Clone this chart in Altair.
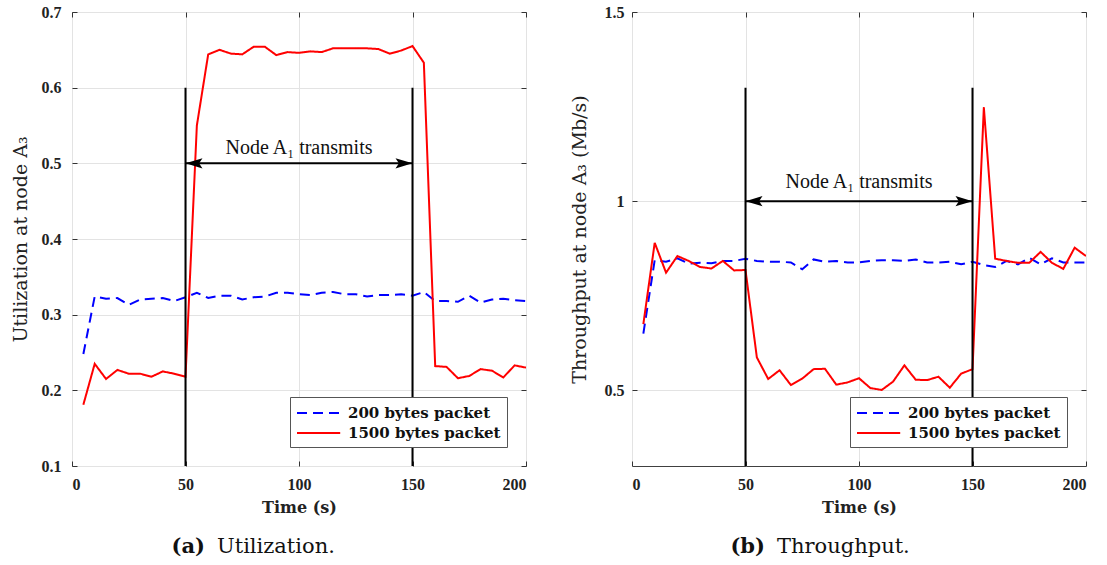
import altair as alt
import pandas as pd

# ---- data -------------------------------------------------------------
time_s = [5, 10, 15, 20, 25, 30, 35, 40, 45, 50,
          55, 60, 65, 70, 75, 80, 85, 90, 95, 100,
          105, 110, 115, 120, 125, 130, 135, 140, 145, 150,
          155, 160, 165, 170, 175, 180, 185, 190, 195, 200]

util_200 = [0.248, 0.324, 0.321, 0.322, 0.313, 0.320, 0.321, 0.322, 0.318, 0.323,
            0.329, 0.322, 0.325, 0.325, 0.320, 0.323, 0.324, 0.329, 0.329, 0.327,
            0.326, 0.329, 0.330, 0.327, 0.327, 0.324, 0.326, 0.326, 0.327, 0.325,
            0.330, 0.318, 0.318, 0.317, 0.325, 0.316, 0.320, 0.321, 0.319, 0.318]

util_1500 = [0.181, 0.235, 0.215, 0.227, 0.222, 0.222, 0.218, 0.225, 0.222, 0.218,
             0.550, 0.644, 0.650, 0.645, 0.644, 0.654, 0.654, 0.643, 0.647, 0.646,
             0.648, 0.647, 0.652, 0.652, 0.652, 0.652, 0.651, 0.645, 0.649, 0.655,
             0.633, 0.232, 0.231, 0.216, 0.219, 0.228, 0.226, 0.217, 0.233, 0.230]

thr_200 = [0.650, 0.844, 0.840, 0.849, 0.835, 0.837, 0.836, 0.842, 0.842, 0.848,
           0.842, 0.840, 0.840, 0.838, 0.820, 0.846, 0.840, 0.842, 0.838, 0.838,
           0.842, 0.844, 0.844, 0.842, 0.846, 0.838, 0.838, 0.840, 0.833, 0.840,
           0.831, 0.826, 0.842, 0.833, 0.850, 0.833, 0.849, 0.838, 0.838, 0.838]

thr_1500 = [0.675, 0.890, 0.811, 0.855, 0.842, 0.826, 0.822, 0.842, 0.817, 0.818,
            0.587, 0.530, 0.553, 0.514, 0.531, 0.556, 0.557, 0.515, 0.521, 0.532,
            0.506, 0.501, 0.523, 0.566, 0.528, 0.527, 0.536, 0.507, 0.544, 0.556,
            1.248, 0.848, 0.842, 0.837, 0.837, 0.866, 0.837, 0.821, 0.877, 0.855]

series_names = ["200 bytes packet", "1500 bytes packet"]
series_colors = ["#0000ff", "#ff0000"]
series_dashes = [[10, 6], [1, 0]]

x_ticks = [0, 50, 100, 150, 200]
util_ticks = [0.1, 0.2, 0.3, 0.4, 0.5, 0.6, 0.7]
thr_ticks = [0.5, 1.0, 1.5]

event_times = [50, 150]          # A1 starts / stops transmitting
event_label = "Node A\u2081 transmits"

# ---- styling ----------------------------------------------------------
W, H = 454, 454
GRID = "#e3e3e3"
TICK = "#333333"
TICK_FONT = "Liberation Serif"
TEX_FONT = "DejaVu Serif"

LEFT_ARROW = "M0,0 L2,-0.6 L1.6,0 L2,0.6 Z"
RIGHT_ARROW = "M0,0 L-2,-0.6 L-1.6,0 L-2,0.6 Z"
LEGEND_LINE = "M-1,0 L3.8,0"


def panel(v200, v1500, y_title, y_domain, y_ticks, marker_top, arrow_y,
          text_dy, tag, caption, y_label_pad, y_title_pad):
    df = pd.DataFrame({
        "t": time_s * 2,
        "v": v200 + v1500,
        "series": [series_names[0]] * len(time_s) + [series_names[1]] * len(time_s),
    })
    events = pd.DataFrame({"t": event_times,
                           "lo": [y_domain[0]] * 2,
                           "hi": [marker_top] * 2})
    arrow = pd.DataFrame({"x0": [event_times[0]], "x1": [event_times[1]],
                          "xm": [(event_times[0] + event_times[1]) / 2],
                          "y": [arrow_y], "label": [event_label]})
    cap = pd.DataFrame({"tag": [tag], "name": [caption]})

    xs = alt.Scale(domain=[0, 200], nice=False)
    ys = alt.Scale(domain=y_domain, nice=False, zero=False)

    main_x = alt.Axis(values=x_ticks, format="d", title="Time (s)", grid=True,
                      gridColor=GRID, ticks=False, domain=False,
                      labelFont=TICK_FONT, labelFontSize=16, labelFontWeight="bold",
                      labelColor="#222", labelPadding=10,
                      titleFont=TEX_FONT, titleFontSize=16, titleFontWeight="bold",
                      titleColor="#222", titlePadding=7)
    main_y = alt.Axis(values=y_ticks, format="~g", title=y_title, grid=True,
                      gridColor=GRID, ticks=False, domain=False,
                      labelFont=TICK_FONT, labelFontSize=16, labelFontWeight="bold",
                      labelColor="#222", labelPadding=y_label_pad,
                      titleFont=TEX_FONT, titleFontSize=19, titleFontWeight="normal",
                      titleColor="#222", titlePadding=y_title_pad)

    # short inward ticks on every side of the frame
    def tick_axis(vals, orient, offset):
        return alt.Axis(values=vals, orient=orient, offset=offset, title=None,
                        labels=False, grid=False, domain=False, ticks=True,
                        tickSize=5, tickColor=TICK, tickWidth=1)

    lines = alt.Chart(df).mark_line(strokeWidth=2, clip=True).encode(
        x=alt.X("t:Q", scale=xs, axis=main_x),
        y=alt.Y("v:Q", scale=ys, axis=main_y),
        color=alt.Color("series:N",
                        scale=alt.Scale(domain=series_names, range=series_colors),
                        legend=alt.Legend(title=None)),
        strokeDash=alt.StrokeDash("series:N",
                                  scale=alt.Scale(domain=series_names, range=series_dashes),
                                  legend=alt.Legend(title=None)),
    )

    markers = alt.Chart(events).mark_rule(color="black", strokeWidth=2).encode(
        x=alt.X("t:Q", scale=xs, axis=tick_axis(x_ticks, "top", -H)),
        y=alt.Y("lo:Q", scale=ys, axis=tick_axis(y_ticks, "right", -W)),
        y2="hi:Q",
    )

    shaft = alt.Chart(arrow).mark_rule(color="black", strokeWidth=2).encode(
        x=alt.X("x0:Q", scale=xs, axis=tick_axis(x_ticks, "bottom", -H)),
        x2="x1:Q",
        y=alt.Y("y:Q", scale=ys, axis=tick_axis(y_ticks, "left", -W)),
    )
    head_l = alt.Chart(arrow).mark_point(shape=LEFT_ARROW, size=289, filled=True,
                                         color="black", opacity=1).encode(
        x=alt.X("x0:Q", scale=xs, axis=None), y=alt.Y("y:Q", scale=ys, axis=None))
    head_r = alt.Chart(arrow).mark_point(shape=RIGHT_ARROW, size=289, filled=True,
                                         color="black", opacity=1).encode(
        x=alt.X("x1:Q", scale=xs, axis=None), y=alt.Y("y:Q", scale=ys, axis=None))
    label = alt.Chart(arrow).mark_text(font="Liberation Serif", fontSize=20,
                                       baseline="alphabetic", dy=text_dy,
                                       color="#111").encode(
        x=alt.X("xm:Q", scale=xs, axis=None), y=alt.Y("y:Q", scale=ys, axis=None),
        text="label:N")

    cap_tag = alt.Chart(cap).mark_text(font=TEX_FONT, fontSize=21, fontWeight="bold",
                                       align="right", baseline="alphabetic",
                                       color="#111").encode(
        x=alt.value(133), y=alt.value(541), text="tag:N")
    cap_name = alt.Chart(cap).mark_text(font=TEX_FONT, fontSize=21,
                                        align="left", baseline="alphabetic",
                                        color="#111").encode(
        x=alt.value(145), y=alt.value(541), text="name:N")

    return alt.layer(lines, markers, shaft, head_l, head_r, label,
                     cap_tag, cap_name).resolve_axis(
        x="independent", y="independent").properties(width=W, height=H)


left = panel(util_200, util_1500, "Utilization at node A\u2083", [0.1, 0.7],
             util_ticks, 0.6, 0.5, -9, "(a)", "Utilization.", 11, 11)
right = panel(thr_200, thr_1500, "Throughput at node A\u2083 (Mb/s)", [0.3, 1.5],
              thr_ticks, 1.3, 1.0, -13, "(b)", "Throughput.", 8, 15)

chart = alt.hconcat(left, right, spacing=106, bounds="flush").resolve_scale(
    color="independent", strokeDash="independent"
).configure_view(
    stroke="#404040", strokeWidth=1
).configure_legend(
    orient="bottom-right", offset=19, fillColor="white", strokeColor="#555555",
    padding=6, rowPadding=2, symbolType=LEGEND_LINE, symbolSize=324,
    symbolStrokeWidth=2, labelOffset=32, labelFont=TEX_FONT, labelFontSize=15,
    labelFontWeight="bold", labelColor="#111", cornerRadius=0,
).properties(
    padding={"left": 10, "top": 3, "right": 5, "bottom": 5},
    background="white",
)

chart.save("out.html", embed_options={"renderer": "svg", "actions": False})
